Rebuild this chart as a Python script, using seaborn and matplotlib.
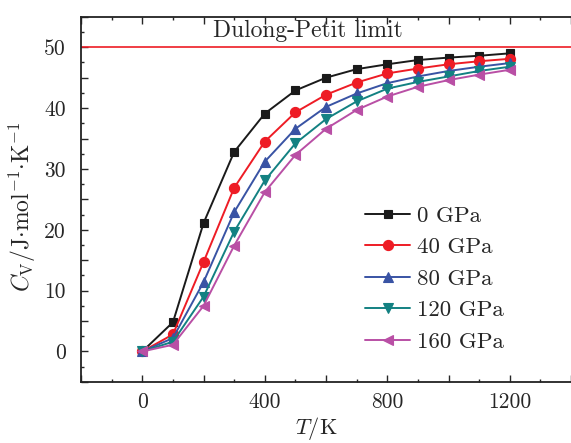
import matplotlib
matplotlib.use("Agg")
import matplotlib.pyplot as plt
import seaborn as sns
import numpy as np
import pandas as pd
from matplotlib.ticker import MultipleLocator, FuncFormatter

T = [0, 100, 200, 300, 400, 500, 600, 700, 800, 900, 1000, 1100, 1200]
cv_0 = [0, 4.8, 21.1, 32.8, 39.1, 42.9, 45.0, 46.4, 47.2, 47.9, 48.3, 48.6, 49.0]
cv_40 = [0, 2.8, 14.7, 26.9, 34.5, 39.3, 42.2, 44.2, 45.7, 46.5, 47.2, 47.7, 48.1]
cv_80 = [0, 2.2, 11.4, 22.9, 31.2, 36.6, 40.2, 42.4, 44.1, 45.2, 46.1, 46.8, 47.4]
cv_120 = [0, 1.6, 9.0, 19.7, 28.1, 34.2, 38.2, 41.1, 43.2, 44.3, 45.2, 46.1, 46.8]
cv_160 = [0, 1.1, 7.5, 17.4, 26.2, 32.3, 36.6, 39.7, 41.9, 43.5, 44.6, 45.5, 46.3]
labels = ["0 GPa", "40 GPa", "80 GPa", "120 GPa", "160 GPa"]
dp_limit = 50.0

sns.set_style("ticks")
plt.rcParams["font.family"] = ["cmr10", "DejaVu Serif"]
plt.rcParams["mathtext.fontset"] = "cm"
plt.rcParams["axes.formatter.use_mathtext"] = True

fig = plt.figure(figsize=(5.71, 4.43), dpi=100)
ax = fig.add_axes([0.142, 0.138, 0.858, 0.824])

series = [cv_0, cv_40, cv_80, cv_120, cv_160]
colors = ["#1a1a1a", "#ee1c25", "#3953a4", "#138182", "#b94fa5"]
markers = ["s", "o", "^", "v", "<"]
msizes = [6.3, 7.3, 7.8, 7.8, 7.8]

for vals, lab, c, m, ms in zip(series, labels, colors, markers, msizes):
    sns.lineplot(x=T, y=vals, ax=ax, color=c, marker=m, markersize=ms,
                 markeredgecolor=c, markeredgewidth=0.8, linewidth=1.4, label=lab)

ax.axhline(dp_limit, color="#ee1c25", linewidth=1.2)
ax.text(540, 52.7, "Dulong-Petit limit", ha="center", va="center", fontsize=17)

ax.set_xlim(-200, 1400)
ax.set_ylim(-5, 55)
ax.xaxis.set_major_locator(MultipleLocator(200))
ax.xaxis.set_minor_locator(MultipleLocator(100))
ax.xaxis.set_major_formatter(FuncFormatter(lambda v, p: f"{int(v)}" if int(round(v)) % 400 == 0 else ""))
ax.yaxis.set_major_locator(MultipleLocator(5))
ax.yaxis.set_minor_locator(MultipleLocator(2.5))
ax.yaxis.set_major_formatter(FuncFormatter(lambda v, p: f"{int(v)}" if int(round(v)) % 10 == 0 else ""))

ax.tick_params(which="both", direction="in", top=True, right=False, labelsize=15.5, width=1.0)
ax.tick_params(axis="x", which="major", length=5, pad=8)
ax.tick_params(axis="y", which="major", length=5, pad=11)
ax.tick_params(which="minor", length=2.5)
for s in ["left", "bottom", "top"]:
    ax.spines[s].set_linewidth(1.3)
    ax.spines[s].set_color("#222222")
ax.spines["right"].set_visible(False)

ax.set_xlabel("$T$/K", fontsize=16)
ax.set_ylabel(r"$C_{\mathrm{V}}$/J$\cdot$mol$^{-1}$$\cdot$K$^{-1}$", fontsize=17)
ax.xaxis.label.set_va("center")
ax.yaxis.label.set_va("center")
ax.xaxis.set_label_coords(0.48, -0.128)
ax.yaxis.set_label_coords(-0.12, 0.479)

leg = ax.legend(loc="center left", bbox_to_anchor=(0.56, 0.282), frameon=False,
                borderaxespad=0, fontsize=16.5, handlelength=2.0, labelspacing=0.5,
                handletextpad=0.3)

fig.savefig("out.png", dpi=100)
